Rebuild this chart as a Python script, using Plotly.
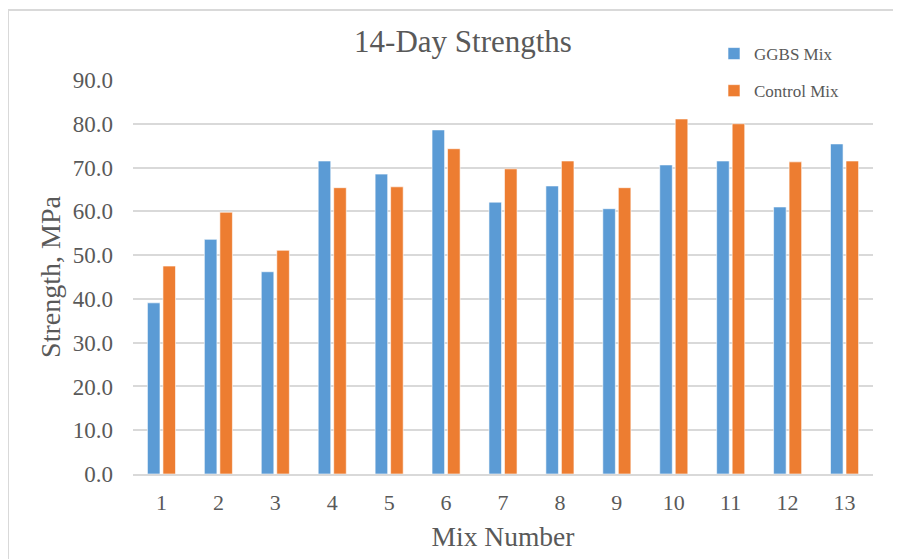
import plotly.graph_objects as go

mix_numbers = ["1", "2", "3", "4", "5", "6", "7", "8", "9", "10", "11", "12", "13"]
ggbs_mix = [39.1, 53.6, 46.2, 71.5, 68.5, 78.6, 62.1, 65.8, 60.6, 70.6, 71.5, 61.0, 75.4]
control_mix = [47.5, 59.8, 51.1, 65.4, 65.6, 74.3, 69.7, 71.5, 65.4, 81.1, 80.0, 71.3, 71.5]
y_ticks = [0, 10, 20, 30, 40, 50, 60, 70, 80, 90]

FONT = "Liberation Serif, Times New Roman, serif"
TXT = "#595959"
GRID = "#d9d9d9"

# page body has an 8px margin, so the figure is drawn at (8, 8)
W, H = 893, 551
L, R, T, B = 125, 28, 72, 85
PW = W - L - R
PH = H - T - B

fig = go.Figure()
fig.add_trace(go.Bar(x=mix_numbers, y=ggbs_mix, name="GGBS Mix", legendgroup="a",
                     marker=dict(color="#5B9BD5", line=dict(color="white", width=0.6))))
fig.add_trace(go.Bar(x=mix_numbers, y=control_mix, name="Control Mix", legendgroup="b",
                     marker=dict(color="#ED7D31", line=dict(color="white", width=0.6))))

fig.update_layout(
    width=W, height=H,
    paper_bgcolor="white", plot_bgcolor="white",
    margin=dict(l=L, r=R, t=T, b=B, autoexpand=False),
    font=dict(family=FONT, color=TXT, size=22),
    title=dict(text="14-Day Strengths", x=455 / W, xanchor="center",
               y=1 - 33 / H, yanchor="middle",
               font=dict(size=31, color=TXT, family=FONT)),
    barmode="group", bargap=0.455, bargroupgap=0.19,
    showlegend=True,
    legend=dict(x=(706 - L) / PW, y=(PH + 44) / PH, xanchor="left", yanchor="top",
                font=dict(size=17, color=TXT, family=FONT),
                tracegroupgap=12, itemwidth=30, bgcolor="rgba(0,0,0,0)"),
    xaxis=dict(title=dict(text="Mix Number", font=dict(size=27.5, color=TXT), standoff=13),
               showgrid=False, showline=True, linecolor=GRID, linewidth=1.5,
               ticks="", ticklabelstandoff=8, tickfont=dict(size=22, color=TXT)),
    yaxis=dict(title=dict(text="Strength, MPa", font=dict(size=28, color=TXT), standoff=3),
               range=[0, 90], tickvals=y_ticks, tickformat=".1f",
               showgrid=True, gridcolor=GRID, gridwidth=1.5, zeroline=False,
               showline=False, ticks="", ticklabelstandoff=19,
               tickfont=dict(size=23, color=TXT)),
    shapes=[dict(type="rect", xref="paper", yref="paper",
                 x0=(0 - L) / PW, x1=(W + 10 - L) / PW,
                 y0=-(B + 10) / PH, y1=(PH + T - 2) / PH,
                 line=dict(color=GRID, width=2), fillcolor="rgba(0,0,0,0)", layer="below")],
)

fig.write_html("out.html")
